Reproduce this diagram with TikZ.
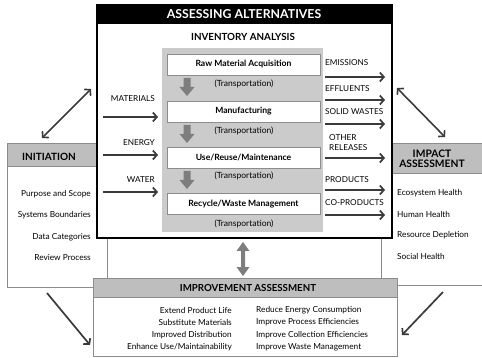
\documentclass[tikz,border=0pt]{standalone}
\usepackage{fontspec}
\setmainfont{Lato}
\usetikzlibrary{arrows.meta}

\definecolor{hdrgray}{HTML}{BEBEBE}
\definecolor{panelgray}{HTML}{CBCBCB}
\definecolor{arrowdark}{HTML}{3A3A3A}
\definecolor{blockgray}{HTML}{7E7E7E}
\definecolor{framegray}{HTML}{8C8C8C}

\newcommand{\fs}[1]{\fontsize{#1}{#1}\selectfont}

\begin{document}
\begin{tikzpicture}[x=1pt,y=-1pt,
  box/.style={anchor=north west,inner sep=0pt,outer sep=0pt},
  frame/.style={box,draw=framegray,line width=0.6pt,fill=white},
  header/.style={box,draw=framegray,line width=0.6pt,fill=hdrgray},
  stagebox/.style={draw=framegray,fill=white,line width=0.5pt,inner sep=0pt,outer sep=0pt,
    minimum width=153pt,minimum height=21pt,font=\bfseries\fs{8.6}},
  transp/.style={font=\fs{8.5},inner sep=0pt},
  flowlabel/.style={font=\fs{8.2},inner sep=0pt,align=left},
  listitem/.style={font=\fs{8.3},inner sep=0pt},
  title/.style={font=\bfseries\fs{10},inner sep=0pt,align=center},
  flow/.style={draw=arrowdark,line width=1.7pt,-{Straight Barb[length=4pt,width=9pt]}},
  twoway/.style={draw=arrowdark,line width=1.6pt,
    {Straight Barb[length=4pt,width=9pt]}-{Straight Barb[length=4pt,width=9pt]}},
  downarrow/.pic={\fill[blockgray] (-3.5,0) -- (3.5,0) -- (3.5,9) -- (7.5,9) -- (0,18)
      -- (-7.5,9) -- (-3.5,9) -- cycle;}
]
\useasboundingbox (0,0) rectangle (482,358);

% ---- side boxes (behind the central frame) ----
\node[frame,minimum width=100pt,minimum height=144pt] (initbox) at (7,143) {};
\node[header,minimum width=100pt,minimum height=23pt] (inithead) at (7,143) {};
\node[title] (initttl) at (49,157) {INITIATION};

\node[frame,minimum width=110pt,minimum height=142pt] (impbox) at (381,143) {};
\node[header,minimum width=110pt,minimum height=30pt] (imphead) at (381,143) {};
\node[title,font=\bfseries\fs{10.3}] (impttl) at (432,159) {IMPACT\\[-0.5pt]ASSESSMENT};

\node[frame,minimum width=304pt,minimum height=78pt] (impvbox) at (93,278) {};
\node[header,minimum width=304pt,minimum height=19pt] (impvhead) at (93,278) {};
\node[title,font=\bfseries\fs{9.7}] (impvttl) at (248,288) {IMPROVEMENT ASSESSMENT};

% ---- central frame ----
\node[box,draw=black,line width=1.4pt,fill=white,minimum width=295pt,minimum height=233pt]
  (main) at (97,5) {};
\node[box,fill=black,minimum width=295pt,minimum height=19pt] (mainhead) at (97,5) {};
\node[font=\bfseries\fs{12.3},text=white,inner sep=0pt] (mainttl) at (244,14.5) {ASSESSING ALTERNATIVES};
\node[font=\bfseries\fs{9.8},inner sep=0pt] (invttl) at (243,37) {INVENTORY ANALYSIS};

\node[box,fill=panelgray,minimum width=161pt,minimum height=184pt] (panel) at (162,48) {};

% ---- life-cycle stages ----
\node[stagebox] (raw) at (243.5,64.5) {Raw Material Acquisition};
\node[stagebox] (manu) at (243.5,111.5) {Manufacturing};
\node[stagebox] (use) at (243.5,157.5) {Use/Reuse/Maintenance};
\node[stagebox] (recy) at (243.5,204) {Recycle/Waste Management};

\node[transp] (tr1) at (244,84) {(Transportation)};
\node[transp] (tr2) at (244,131) {(Transportation)};
\node[transp] (tr3) at (244,176) {(Transportation)};
\node[transp] (tr4) at (244,224) {(Transportation)};

\pic at (187,78) {downarrow};
\pic at (187,125) {downarrow};
\pic at (187,171) {downarrow};

% ---- inputs ----
\coordinate (inM) at (103,117); \coordinate (inMe) at (158,117);
\coordinate (inE) at (103,155); \coordinate (inEe) at (158,155);
\coordinate (inW) at (103,192); \coordinate (inWe) at (158,192);
\draw[flow] (inM) -- (inMe);
\draw[flow] (inE) -- (inEe);
\draw[flow] (inW) -- (inWe);
\node[flowlabel,anchor=east] (lblM) at (155,99) {MATERIALS};
\node[flowlabel,anchor=east] (lblE) at (155,143) {ENERGY};
\node[flowlabel,anchor=east] (lblW) at (155,180) {WATER};

% ---- outputs ----
\foreach \nm/\yy in {em/77,ef/100,sw/124,or/158,pr/190,cp/215}{
  \coordinate (\nm s) at (325,\yy);
  \coordinate (\nm e) at (385,\yy);
  \draw[flow] (\nm s) -- (\nm e);
}
\node[flowlabel,anchor=west] (lblEm) at (325,63) {EMISSIONS};
\node[flowlabel,anchor=west] (lblEf) at (325,89) {EFFLUENTS};
\node[flowlabel,anchor=west] (lblSw) at (325,112) {SOLID WASTES};
\node[flowlabel,anchor=west] (lblOr) at (329,142.5) {OTHER\\[1pt]RELEASES};
\node[flowlabel,anchor=west] (lblPr) at (325,180) {PRODUCTS};
\node[flowlabel,anchor=west] (lblCp) at (325,203) {CO-PRODUCTS};

% ---- side lists ----
\foreach \txt/\yy [count=\i] in {{Purpose and Scope}/194,{Systems Boundaries}/215,{Data Categories}/237,{Review Process}/258}
  \node[listitem,anchor=east] (init\i) at (91,\yy) {\txt};
\foreach \txt/\yy [count=\i] in {{Ecosystem Health}/193,{Human Health}/214,{Resource Depletion}/235,{Social Health}/256}
  \node[listitem,anchor=west] (imp\i) at (397,\yy) {\txt};
\foreach \txt/\yy [count=\i] in {{Extend Product Life}/310,{Substitute Materials}/322,{Improved Distribution}/335,{Enhance Use/Maintainability}/347}
  \node[listitem,anchor=east] (impvL\i) at (232,\yy) {\txt};
\foreach \txt/\yy [count=\i] in {{Reduce Energy Consumption}/310,{Improve Process Efficiencies}/322,{Improve Collection Efficiencies}/335,{Improve Waste Management}/347}
  \node[listitem,anchor=west] (impvR\i) at (256,\yy) {\txt};

% ---- link between inventory and improvement ----
\fill[blockgray] (243,242) -- (249.5,251) -- (245,251) -- (245,267) -- (249.5,267) -- (243,276)
  -- (236.5,267) -- (241,267) -- (241,251) -- (236.5,251) -- cycle;

% ---- diagonal connectors ----
\coordinate (dA1) at (42,138); \coordinate (dA2) at (91,89);
\coordinate (dB1) at (397,88); \coordinate (dB2) at (445,137);
\coordinate (dC1) at (47,293); \coordinate (dC2) at (90,345);
\coordinate (dD1) at (443,292); \coordinate (dD2) at (402,335);
\draw[twoway] (dA1) -- (dA2);
\draw[twoway] (dB1) -- (dB2);
\draw[flow] (dC1) -- (dC2);
\draw[flow] (dD1) -- (dD2);
\end{tikzpicture}
\end{document}
